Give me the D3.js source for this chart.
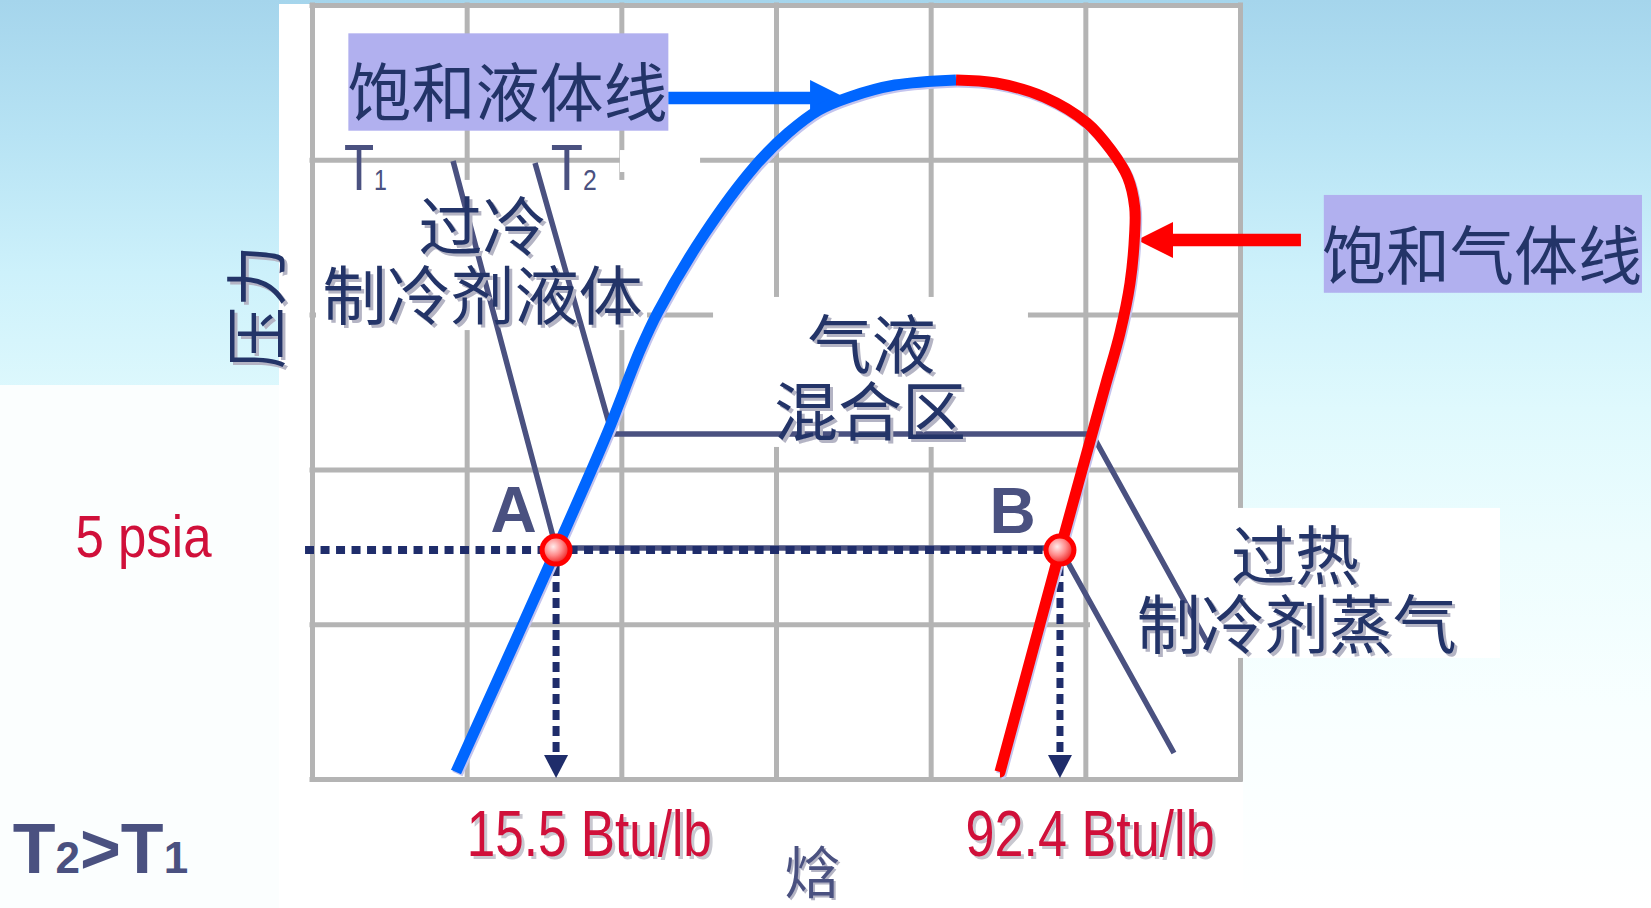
<!DOCTYPE html>
<html><head><meta charset="utf-8">
<script src="https://cdn.jsdelivr.net/npm/d3@7"></script>
<style>
html,body{margin:0;padding:0;background:#fff;overflow:hidden;}
svg{display:block;}
</style></head><body>
<svg id="chart" width="1651" height="908"></svg>
<script>
// ---------------- DATA (schematic grid units: h = enthalpy, p = pressure) ----------------
const gridH = [0, 1, 2, 3, 4, 5, 6];
const gridP = [0, 1, 2, 3, 4, 5];

// saturated liquid line (blue), bottom -> critical point
const satLiquidH = [0.931, 1.578, 1.907, 2.121, 2.237, 2.541, 2.858, 3.077, 3.278, 3.478, 3.769, 4.164];
const satLiquidP = [0.045, 1.479, 2.229, 2.771, 3.017, 3.527, 3.953, 4.173, 4.322, 4.406, 4.483, 4.516];
// saturated vapour line (red), critical point -> bottom
const satVaporH = [4.164, 4.423, 4.733, 5.011, 5.166, 5.273, 5.319, 5.319, 5.289, 5.224, 5.134, 5.043, 4.836, 4.448];
const satVaporP = [4.516, 4.496, 4.406, 4.238, 4.063, 3.889, 3.695, 3.527, 3.204, 2.881, 2.558, 2.229, 1.479, 0.045];

// isotherms T1 (lower) and T2 (higher)
const isoT1H = [0.912, 1.578, 4.836, 5.573];
const isoT1P = [3.979, 1.479, 1.479, 0.155];
const isoT2H = [1.442, 1.940, 5.043, 5.786];
const isoT2P = [3.979, 2.229, 2.229, 0.885];

// state points at 5 psia
const stateNames = ["A", "B"];
const stateH = [1.578, 4.836];
const stateP = [1.479, 1.479];
const stateLabelH = [1.303, 4.530];
const stateLabelP = [1.596, 1.589];
const enthalpyLabels = ["15.5 Btu/lb", "92.4 Btu/lb"];
const enthalpyLabelH = [1.001, 4.226];
const enthalpyLabelP = -0.497;
const pressureLabel = "5 psia";
const pressureLabelH = -1.529;
const pressureLabelP = 1.434;
const guideStartH = -0.045;   // dotted guide start
const guideEndP = 0.155;      // dotted arrow base
const guideTipP = 0.006;      // dotted arrow tip

// callouts
const calloutText = ["饱和液体线", "饱和气体线"];
const calloutH0 = [0.235, 6.542];
const calloutH1 = [2.304, 8.599];
const calloutP0 = [4.188, 3.141];
const calloutP1 = [4.817, 3.773];
const calloutTextH = [1.264, 7.565];
const calloutTextP = [4.464, 3.411];
const arrowTailH = [2.304, 6.394];
const arrowTipH = [3.453, 5.334];
const arrowP = [4.399, 3.482];

// region labels
const regionText = ["过冷", "制冷剂液体", "气液", "混合区", "过热", "制冷剂蒸气"];
const regionH = [1.102, 1.102, 3.617, 3.608, 6.356, 6.367];
const regionP = [3.600, 3.152, 2.836, 2.406, 1.470, 1.027];
// white backdrops behind region labels
const maskH0 = [0.026, 2.593, 5.030, 1.991];
const maskH1 = [2.166, 4.629, 7.681, 2.509];
const maskP0 = [2.900, 2.145, 0.782, 3.921];
const maskP1 = [3.870, 3.114, 1.751, 4.063];

// isotherm names
const isoNames = ["T", "T"];
const isoSubs = ["1", "2"];
const isoNameH = [0.2065, 1.5435];
const isoNameP = [3.805, 3.805];

// axis titles
const yTitle = "压力";
const yTitleH = -0.381, yTitleP = 3.049;
const xTitle = "焓";
const xTitleH = 3.236, xTitleP = -0.581;
const relationParts = ["T", "2", ">", "T", "1"];
const relationH = -1.935, relationP = -0.607;

// ---------------- DRAWING ----------------
const W = 1651, H = 908;
const svg = d3.select("#chart");
const x = d3.scaleLinear().domain([0, 6]).range([312, 1240]);
const y = d3.scaleLinear().domain([0, 5]).range([779, 5]);

const C = {
  blue: "#0066ff", red: "#ff0000", slate: "#4a5180", navy: "#233468",
  dot: "#1f2d6b", crimson: "#d0103a", grid: "#b4b4b4", box: "#b1b0ef",
  shadow: "#b4b4c4"
};
const CJK = "'Noto Sans CJK SC','Noto Sans CJK JP',sans-serif";
const LAT = "'Liberation Sans',Arial,sans-serif";

const defs = svg.append("defs");
const bg = defs.append("linearGradient").attr("id", "bg")
  .attr("x1", 0).attr("y1", 0).attr("x2", 0).attr("y2", 1);
[[0, "#a5d5ec"], [0.15, "#b7e3f4"], [0.3, "#cdf1fb"], [0.45, "#dff9fd"],
 [0.6, "#edfdfe"], [0.78, "#f8ffff"], [1, "#ffffff"]]
  .forEach(([o, c]) => bg.append("stop").attr("offset", o).attr("stop-color", c));
const rg = defs.append("radialGradient").attr("id", "ball")
  .attr("cx", 0.4).attr("cy", 0.38).attr("r", 0.7);
rg.append("stop").attr("offset", 0).attr("stop-color", "#ffecec");
rg.append("stop").attr("offset", 0.45).attr("stop-color", "#ff8a8a");
rg.append("stop").attr("offset", 1).attr("stop-color", "#e80000");

// background + white panel
svg.append("rect").attr("width", W).attr("height", H).attr("fill", "url(#bg)");
svg.append("rect").attr("x", 0).attr("y", 385).attr("width", 279).attr("height", H - 385).attr("fill", "#fbfefe");
svg.append("rect").attr("x", 279).attr("y", 4).attr("width", 964).attr("height", H - 4).attr("fill", "#ffffff");

// grid via axes
const gx = svg.append("g").attr("transform", `translate(0,${y(0)})`)
  .call(d3.axisBottom(x).tickValues(gridH).tickSize(-(y(0) - y(5))).tickFormat(""));
const gy = svg.append("g").attr("transform", `translate(${x(0)},0)`)
  .call(d3.axisLeft(y).tickValues(gridP).tickSize(-(x(6) - x(0))).tickFormat(""));
[gx, gy].forEach(g => {
  g.select(".domain").remove();
  g.selectAll(".tick line").attr("stroke", C.grid).attr("stroke-width", 5).attr("stroke-linecap", "square");
});

// white backdrops
svg.append("g").selectAll("rect").data(maskH0).join("rect")
  .attr("x", (d, i) => x(maskH0[i]))
  .attr("y", (d, i) => y(maskP1[i]))
  .attr("width", (d, i) => x(maskH1[i]) - x(maskH0[i]))
  .attr("height", (d, i) => y(maskP0[i]) - y(maskP1[i]))
  .attr("fill", "#ffffff");

// callout boxes
svg.append("g").selectAll("rect").data(calloutText).join("rect")
  .attr("x", (d, i) => x(calloutH0[i]))
  .attr("y", (d, i) => y(calloutP1[i]))
  .attr("width", (d, i) => x(calloutH1[i]) - x(calloutH0[i]))
  .attr("height", (d, i) => y(calloutP0[i]) - y(calloutP1[i]))
  .attr("fill", C.box);

// isotherms
const lin = d3.line().x(d => x(d[0])).y(d => y(d[1]));
const iso1 = isoT1H.map((h, i) => [h, isoT1P[i]]);
const iso2 = isoT2H.map((h, i) => [h, isoT2P[i]]);
const gIso = svg.append("g").attr("fill", "none").attr("stroke", C.slate)
  .attr("stroke-width", 5.5).attr("stroke-linejoin", "miter");
gIso.append("path").attr("d", lin(iso2));

// dotted guides
const gGuide = svg.append("g");
gGuide.append("path")
  .attr("d", `M${x(guideStartH)},${y(stateP[0])}H${x(stateH[1])}`)
  .attr("stroke", C.dot).attr("stroke-width", 8).attr("stroke-dasharray", "9,6.5").attr("fill", "none");
stateH.forEach((h, i) => {
  gGuide.append("path")
    .attr("d", `M${x(h)},${y(stateP[i]) + 16}V${y(guideEndP)}`)
    .attr("stroke", C.dot).attr("stroke-width", 7).attr("stroke-dasharray", "10,6").attr("fill", "none");
  gGuide.append("path")
    .attr("d", `M${x(h) - 12},${y(guideEndP)}L${x(h) + 12},${y(guideEndP)}L${x(h)},${y(guideTipP)}Z`)
    .attr("fill", C.dot);
});
gIso.append("path").attr("d", lin(iso1)).attr("transform", "translate(0,-2)");

// callout arrows
function arrowPath(tail, tip, yc) {
  const dir = Math.sign(tip - tail), sw = 6.3, hw = 18, hl = 36;
  const base = tip - dir * hl;
  return `M${tail},${yc - sw}L${base},${yc - sw}L${base},${yc - hw}L${tip},${yc}` +
         `L${base},${yc + hw}L${base},${yc + sw}L${tail},${yc + sw}Z`;
}
const arrowColors = [C.blue, C.red];
svg.append("g").selectAll("path").data(calloutText).join("path")
  .attr("d", (d, i) => arrowPath(x(arrowTailH[i]), x(arrowTipH[i]), y(arrowP[i])))
  .attr("fill", (d, i) => arrowColors[i]);

// saturation dome
const crv = d3.line().x(d => x(d[0])).y(d => y(d[1])).curve(d3.curveCatmullRom.alpha(0.5));
const liq = satLiquidH.map((h, i) => [h, satLiquidP[i]]);
const vap = satVaporH.map((h, i) => [h, satVaporP[i]]);
const gDome = svg.append("g").attr("fill", "none").attr("stroke-width", 11).attr("stroke-linecap", "butt");
gDome.append("path").attr("d", crv(liq)).attr("stroke", "#c4c4ee").attr("transform", "translate(1.5,2)");
gDome.append("path").attr("d", crv(vap)).attr("stroke", "#c4c4ee").attr("transform", "translate(1.5,2)");
gDome.append("path").attr("d", crv(liq)).attr("stroke", C.blue);
gDome.append("path").attr("d", crv(vap)).attr("stroke", C.red);

// state points
svg.append("g").selectAll("circle").data(stateNames).join("circle")
  .attr("cx", (d, i) => x(stateH[i])).attr("cy", (d, i) => y(stateP[i]))
  .attr("r", 14).attr("fill", "url(#ball)").attr("stroke", C.red).attr("stroke-width", 5);

// ---------------- TEXT ----------------
const gT = svg.append("g");
function label(o) {
  const mk = (dx, dy, fill) => {
    const t = gT.append("text").attr("x", o.x + dx).attr("y", o.y + dy)
      .attr("font-family", o.family).attr("font-size", o.size)
      .attr("font-weight", o.weight || "normal").attr("fill", fill)
      .attr("text-anchor", o.anchor || "start");
    if (o.baseline) t.attr("dominant-baseline", o.baseline);
    if (o.len) t.attr("textLength", o.len).attr("lengthAdjust", "spacingAndGlyphs");
    if (o.rotate) t.attr("transform", `rotate(${o.rotate},${o.x + dx},${o.y + dy})`);
    if (o.parts) {
      o.parts.forEach(p => {
        const s = t.append("tspan").text(p.t);
        if (p.size) s.attr("font-size", p.size);
      });
    } else t.text(o.text);
    return t;
  };
  if (o.shadow) mk(o.sdx || 3, o.sdy || 3, o.shadow);
  return mk(0, 0, o.fill);
}

// callout texts
calloutText.forEach((t, i) => label({
  text: t, x: x(calloutTextH[i]), y: y(calloutTextP[i]), size: 64, family: CJK,
  fill: C.navy, anchor: "middle", baseline: "central"
}));
// region texts
regionText.forEach((t, i) => label({
  text: t, x: x(regionH[i]), y: y(regionP[i]), size: 64, family: CJK,
  fill: C.navy, anchor: "middle", baseline: "central", shadow: C.shadow, sdx: 3, sdy: 3
}));
// isotherm names
isoNames.forEach((t, i) => label({
  parts: [{ t: t }, { t: isoSubs[i], size: 30 }], x: x(isoNameH[i]), y: y(isoNameP[i]),
  size: 64, family: LAT, fill: C.slate, len: i === 0 ? 43 : 46
}));
// state letters
stateNames.forEach((t, i) => label({
  text: t, x: x(stateLabelH[i]), y: y(stateLabelP[i]), size: 64, weight: "bold",
  family: LAT, fill: C.slate, anchor: "middle"
}));
// enthalpy values
enthalpyLabels.forEach((t, i) => label({
  text: t, x: x(enthalpyLabelH[i]), y: y(enthalpyLabelP), size: 64, family: LAT,
  fill: C.crimson, len: i === 0 ? 245 : 249, shadow: "#c8c8d0", sdx: 3, sdy: 3
}));
// pressure value
label({
  text: pressureLabel, x: x(pressureLabelH), y: y(pressureLabelP), size: 60, family: LAT,
  fill: C.crimson, len: 136
});
// axis titles
label({
  text: yTitle, x: x(yTitleH), y: y(yTitleP), size: 62, family: CJK, fill: C.navy,
  anchor: "middle", baseline: "central", rotate: -90, shadow: C.shadow, sdx: 3, sdy: 3
});
label({
  text: xTitle, x: x(xTitleH), y: y(xTitleP), size: 56, family: CJK, fill: C.slate,
  anchor: "middle", baseline: "central", shadow: C.shadow, sdx: 2, sdy: 2
});
// T2 > T1
label({
  parts: relationParts.map((p, i) => ({ t: p, size: (i === 1 || i === 4) ? 44 : null })),
  x: x(relationH), y: y(relationP), size: 70, weight: "bold", family: LAT, fill: C.slate
});
</script>
</body></html>
